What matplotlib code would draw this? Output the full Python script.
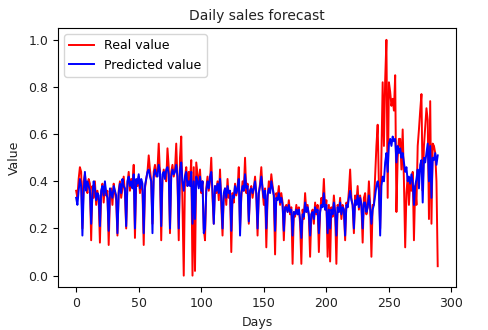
import matplotlib
matplotlib.use("Agg")
import matplotlib.pyplot as plt
import numpy as np

real_value = [
    0.36, 0.33, 0.41, 0.46, 0.44, 0.20, 0.40,
    0.43, 0.38, 0.35, 0.41, 0.39, 0.15, 0.38,
    0.33, 0.40, 0.30, 0.36, 0.32, 0.14, 0.35,
    0.39, 0.31, 0.38, 0.34, 0.36, 0.13, 0.33,
    0.37, 0.30, 0.39, 0.35, 0.32, 0.17, 0.36,
    0.40, 0.33, 0.37, 0.42, 0.35, 0.20, 0.39,
    0.44, 0.36, 0.41, 0.38, 0.47, 0.16, 0.40,
    0.38, 0.42, 0.35, 0.40, 0.36, 0.13, 0.37,
    0.41, 0.44, 0.51, 0.45, 0.40, 0.22, 0.44,
    0.47, 0.42, 0.45, 0.56, 0.43, 0.15, 0.41,
    0.45, 0.42, 0.40, 0.54, 0.46, 0.18, 0.44,
    0.47, 0.42, 0.45, 0.56, 0.40, 0.15, 0.50,
    0.59, 0.30, 0.00, 0.42, 0.46, 0.38, 0.44,
    0.40, 0.49, 0.00, 0.46, 0.02, 0.48, 0.43,
    0.38, 0.45, 0.35, 0.40, 0.20, 0.15, 0.37,
    0.42, 0.36, 0.40, 0.50, 0.33, 0.22, 0.38,
    0.35, 0.40, 0.32, 0.45, 0.30, 0.17, 0.34,
    0.37, 0.30, 0.41, 0.33, 0.36, 0.10, 0.35,
    0.31, 0.39, 0.34, 0.37, 0.46, 0.20, 0.33,
    0.40, 0.36, 0.50, 0.35, 0.39, 0.22, 0.36,
    0.38, 0.33, 0.37, 0.42, 0.34, 0.17, 0.35,
    0.39, 0.46, 0.36, 0.30, 0.37, 0.12, 0.33,
    0.40, 0.36, 0.43, 0.38, 0.34, 0.09, 0.35,
    0.33, 0.38, 0.30, 0.35, 0.31, 0.15, 0.29,
    0.30, 0.27, 0.32, 0.26, 0.29, 0.05, 0.27,
    0.25, 0.30, 0.26, 0.29, 0.22, 0.05, 0.28,
    0.24, 0.35, 0.27, 0.30, 0.25, 0.08, 0.26,
    0.28, 0.22, 0.31, 0.26, 0.30, 0.10, 0.27,
    0.33, 0.30, 0.41, 0.28, 0.32, 0.08, 0.30,
    0.06, 0.29, 0.25, 0.34, 0.27, 0.05, 0.30,
    0.27, 0.33, 0.24, 0.30, 0.28, 0.15, 0.31,
    0.29, 0.36, 0.45, 0.33, 0.30, 0.18, 0.34,
    0.31, 0.38, 0.28, 0.34, 0.30, 0.14, 0.33,
    0.35, 0.26, 0.29, 0.40, 0.30, 0.08, 0.30,
    0.30, 0.42, 0.55, 0.64, 0.38, 0.20, 0.50,
    0.82, 0.55, 0.83, 1.00, 0.33, 0.82, 0.78,
    0.72, 0.75, 0.70, 0.85, 0.27, 0.50, 0.58,
    0.58, 0.45, 0.62, 0.40, 0.12, 0.35, 0.42,
    0.30, 0.40, 0.36, 0.44, 0.15, 0.38, 0.30,
    0.55, 0.62, 0.70, 0.77, 0.36, 0.55, 0.63,
    0.71, 0.66, 0.24, 0.74, 0.22, 0.56, 0.55,
    0.52, 0.40, 0.04,
]

predicted_value = [
    0.33, 0.30, 0.36, 0.41, 0.38, 0.17, 0.35,
    0.44, 0.36, 0.40, 0.38, 0.36, 0.22, 0.34,
    0.40, 0.37, 0.32, 0.35, 0.34, 0.21, 0.36,
    0.38, 0.34, 0.40, 0.35, 0.33, 0.19, 0.37,
    0.35, 0.33, 0.38, 0.36, 0.34, 0.18, 0.35,
    0.39, 0.35, 0.41, 0.38, 0.37, 0.21, 0.40,
    0.42, 0.38, 0.40, 0.37, 0.43, 0.20, 0.41,
    0.39, 0.43, 0.37, 0.41, 0.39, 0.18, 0.38,
    0.41, 0.44, 0.45, 0.42, 0.40, 0.18, 0.42,
    0.45, 0.43, 0.42, 0.47, 0.44, 0.21, 0.43,
    0.44, 0.41, 0.45, 0.46, 0.43, 0.20, 0.42,
    0.45, 0.43, 0.44, 0.47, 0.42, 0.20, 0.45,
    0.48, 0.40, 0.36, 0.42, 0.44, 0.38, 0.40,
    0.38, 0.44, 0.22, 0.40, 0.24, 0.42, 0.40,
    0.37, 0.42, 0.36, 0.40, 0.18, 0.20, 0.36,
    0.40, 0.37, 0.42, 0.44, 0.36, 0.22, 0.38,
    0.36, 0.39, 0.35, 0.41, 0.33, 0.20, 0.35,
    0.37, 0.33, 0.38, 0.35, 0.36, 0.19, 0.34,
    0.33, 0.38, 0.35, 0.37, 0.41, 0.17, 0.35,
    0.38, 0.36, 0.43, 0.37, 0.38, 0.23, 0.36,
    0.37, 0.35, 0.37, 0.40, 0.35, 0.20, 0.35,
    0.38, 0.42, 0.37, 0.33, 0.36, 0.20, 0.34,
    0.37, 0.35, 0.40, 0.37, 0.34, 0.19, 0.33,
    0.32, 0.35, 0.31, 0.33, 0.30, 0.19, 0.29,
    0.29, 0.27, 0.30, 0.27, 0.28, 0.17, 0.27,
    0.26, 0.28, 0.26, 0.28, 0.24, 0.16, 0.26,
    0.25, 0.31, 0.27, 0.29, 0.26, 0.17, 0.26,
    0.27, 0.24, 0.29, 0.27, 0.28, 0.18, 0.27,
    0.30, 0.29, 0.35, 0.28, 0.30, 0.18, 0.28,
    0.20, 0.28, 0.26, 0.31, 0.27, 0.17, 0.29,
    0.27, 0.31, 0.26, 0.29, 0.28, 0.17, 0.30,
    0.29, 0.33, 0.36, 0.32, 0.30, 0.20, 0.32,
    0.30, 0.34, 0.29, 0.33, 0.30, 0.20, 0.31,
    0.31, 0.27, 0.29, 0.34, 0.29, 0.22, 0.28,
    0.30, 0.34, 0.38, 0.40, 0.36, 0.17, 0.38,
    0.42, 0.40, 0.48, 0.52, 0.44, 0.56, 0.58,
    0.55, 0.59, 0.57, 0.58, 0.48, 0.55, 0.52,
    0.54, 0.50, 0.52, 0.48, 0.44, 0.46, 0.40,
    0.42, 0.39, 0.43, 0.40, 0.30, 0.38, 0.41,
    0.45, 0.37, 0.47, 0.49, 0.31, 0.50, 0.48,
    0.52, 0.56, 0.40, 0.55, 0.33, 0.50, 0.49,
    0.52, 0.47, 0.51,
]

days = np.arange(len(real_value))

fig = plt.figure(figsize=(4.88, 3.30), dpi=100)
ax = fig.add_axes([0.119, 0.129, 0.815, 0.786])
ax.plot(days, real_value, color="red", lw=1.4, label="Real value")
ax.plot(days, predicted_value, color="blue", lw=1.4, label="Predicted value")
ax.set_title("Daily sales forecast", fontsize=10, color="#222222")
ax.set_xlabel("Days", fontsize=9, color="#222222")
ax.set_ylabel("Value", fontsize=9, color="#222222", labelpad=5)
ax.tick_params(labelsize=9, labelcolor="#222222")
ax.set_xticks([0, 50, 100, 150, 200, 250, 300])
ax.set_yticks([0.0, 0.2, 0.4, 0.6, 0.8, 1.0])
ax.legend(loc="upper left", fontsize=9)
fig.savefig("out.png", dpi=100)
